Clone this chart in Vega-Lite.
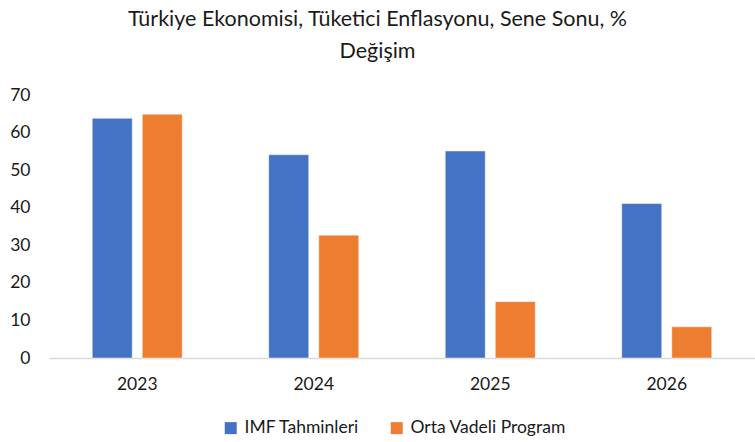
{
  "$schema": "https://vega.github.io/schema/vega-lite/v6.json",
  "width": 706,
  "height": 263,
  "autosize": {"type": "none"},
  "padding": {"left": 49, "top": 95, "right": 0, "bottom": 84},
  "background": "white",
  "title": {
    "text": ["Türkiye Ekonomisi, Tüketici Enflasyonu, Sene Sonu, %", "Değişim"],
    "anchor": "middle",
    "dx": -24.5,
    "font": "Lato",
    "fontSize": 21.5,
    "fontWeight": "normal",
    "color": "#1a1a1a",
    "lineHeight": 32,
    "offset": 24
  },
  "config": {
    "view": {"stroke": null},
    "font": "Lato"
  },
  "data": {
    "values": [
      {"year": "2023", "series": "IMF Tahminleri", "value": 63.8},
      {"year": "2023", "series": "Orta Vadeli Program", "value": 64.9},
      {"year": "2024", "series": "IMF Tahminleri", "value": 54.1},
      {"year": "2024", "series": "Orta Vadeli Program", "value": 32.7},
      {"year": "2025", "series": "IMF Tahminleri", "value": 55.1},
      {"year": "2025", "series": "Orta Vadeli Program", "value": 15.0},
      {"year": "2026", "series": "IMF Tahminleri", "value": 41.1},
      {"year": "2026", "series": "Orta Vadeli Program", "value": 8.3}
    ]
  },
  "mark": {"type": "bar", "stroke": "#ffffff", "strokeOpacity": 0.6, "strokeWidth": 0.8},
  "encoding": {
    "x": {
      "field": "year",
      "type": "nominal",
      "scale": {"paddingInner": 0.49, "paddingOuter": 0.245},
      "axis": {
        "title": null,
        "labelAngle": 0,
        "ticks": false,
        "domainColor": "#d9d9d9",
        "domainWidth": 1.5,
        "labelPadding": 17,
        "labelFontSize": 17.5,
        "labelColor": "#1a1a1a",
        "labelFont": "Lato"
      }
    },
    "xOffset": {
      "field": "series",
      "type": "nominal",
      "scale": {"paddingInner": 0.2, "paddingOuter": 0}
    },
    "y": {
      "field": "value",
      "type": "quantitative",
      "scale": {"domain": [0, 70], "nice": false},
      "axis": {
        "title": null,
        "values": [0, 10, 20, 30, 40, 50, 60, 70],
        "grid": false,
        "domain": false,
        "ticks": false,
        "labelPadding": 19,
        "labelFontSize": 17.5,
        "labelColor": "#1a1a1a",
        "labelFont": "Lato"
      }
    },
    "color": {
      "field": "series",
      "type": "nominal",
      "scale": {"domain": ["IMF Tahminleri", "Orta Vadeli Program"], "range": ["#4472C4", "#ED7D31"]},
      "legend": {
        "title": null,
        "orient": "none",
        "direction": "horizontal",
        "legendX": 173,
        "legendY": 324,
        "symbolType": "square",
        "symbolSize": 144,
        "symbolStrokeWidth": 0,
        "labelFontSize": 17.5,
        "labelFont": "Lato",
        "labelColor": "#1a1a1a",
        "labelOffset": 5,
        "columnPadding": 28
      }
    }
  }
}
